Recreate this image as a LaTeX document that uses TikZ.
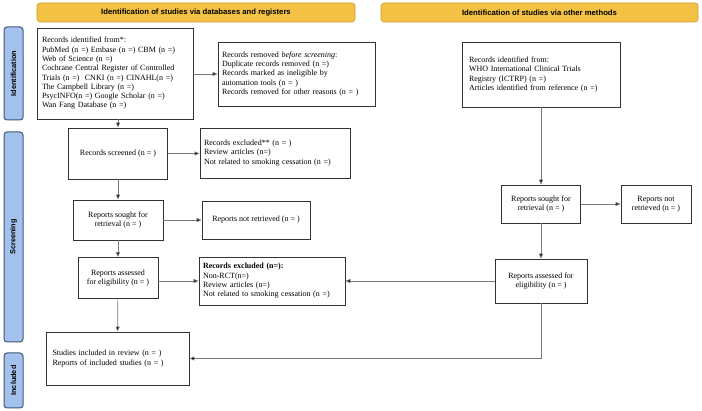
\documentclass[tikz,border=0pt]{standalone}
\usepackage{fontspec}
\setmainfont{Liberation Serif}
\setsansfont{Liberation Sans}
\usepackage{tikz}
\usetikzlibrary{arrows.meta}

\definecolor{headgold}{HTML}{F3C244}
\definecolor{headedge}{HTML}{C99A2E}
\definecolor{sideblue}{HTML}{A3C1EC}
\definecolor{sideedge}{HTML}{3F5676}
\definecolor{linegray}{HTML}{7A7A7A}

\begin{document}
\begin{tikzpicture}[x=1pt,y=-1pt,
  box/.style={draw=black!80,line width=0.9pt,inner sep=3pt,
    font=\fontsize{8}{9.3}\selectfont},
  lbox/.style={box,align=left},
  cbox/.style={box,align=center},
  head/.style={draw=headedge,fill=headgold,rounded corners=3pt,line width=0.6pt,
    minimum height=19,font=\sffamily\bfseries\fontsize{7.7}{9}\selectfont},
  side/.style={draw=sideedge,fill=sideblue,rounded corners=3pt,line width=1pt,
    rotate=90,minimum height=19,font=\sffamily\bfseries\fontsize{7.3}{8}\selectfont},
  flow/.style={draw=linegray,line width=0.7pt,-{Triangle[length=5pt,width=4pt,fill=black]}}]
\useasboundingbox (0,0) rectangle (702,411);

% headers
\node[head,minimum width=318] (hdb) at (196,12.5) {Identification of studies via databases and registers};
\node[head,minimum width=317] (hother) at (539.5,12.5) {Identification of studies via other methods};

% phase labels
\node[side,minimum width=93] (pid) at (13.5,73.5) {Identification};
\node[side,minimum width=210] (pscr) at (13.5,237) {Screening};
\node[side,minimum width=55] (pinc) at (13.5,380.5) {Included};

% databases and registers
\node[lbox,minimum width=156,minimum height=91,text width=146] (ident) at (115,73.5) {Records identified from*:\\
PubMed (n =) Embase (n =) CBM (n =)\\
Web of Science (n =)\\
Cochrane Central Register of Controlled\\
Trials (n =)\ \ CNKI (n =) CINAHL(n =)\\
The Campbell Library (n =)\\
PsycINFO(n =) Google Scholar (n =)\\
Wan Fang Database (n =)};
\node[lbox,minimum width=157,minimum height=64,text width=149] (removed) at (296.5,74) {Records removed \textit{before screening}:\\
Duplicate records removed (n =)\\
Records marked as ineligible by\\
automation tools (n = )\\
Records removed for other reasons (n = )};
\node[cbox,minimum width=99,minimum height=51] (screened) at (118,153.5) {Records screened (n = )};
\node[lbox,minimum width=150,minimum height=50,text width=142] (excl1) at (275,153) {Records excluded** (n = )\\
Review articles (n=)\\
Not related to smoking cessation (n =)};
\node[cbox,minimum width=90,minimum height=40] (soughtL) at (118,220) {Reports sought for\\retrieval (n = )};
\node[cbox,minimum width=108,minimum height=38] (notretL) at (256,220) {Reports not retrieved (n = )};
\node[cbox,minimum width=80,minimum height=41] (assessL) at (118,278) {Reports assessed\\for eligibility (n = )};
\node[lbox,minimum width=146,minimum height=48,text width=138] (excl2) at (272,281) {\textbf{Records excluded (n=):}\\
Non-RCT(n=)\\
Review articles (n=)\\
Not related to smoking cessation (n =)};
\node[lbox,minimum width=143,minimum height=53,text width=130] (incl) at (117.5,358.5) {Studies included in review (n = )\\
Reports of included studies (n = )};

% other methods
\node[lbox,minimum width=158,minimum height=65,text width=144] (other) at (541,74.5) {Records identified from:\\
WHO International Clinical Trials\\
Registry (ICTRP) (n =)\\
Articles identified from reference (n =)};
\node[cbox,minimum width=79,minimum height=38] (soughtR) at (541,204) {Reports sought for\\retrieval (n = )};
\node[cbox,minimum width=70,minimum height=38] (notretR) at (656,204) {Reports not\\retrieved (n = )};
\node[cbox,minimum width=92,minimum height=44] (assessR) at (541,281) {Reports assessed for\\eligibility (n = )};

% connectors
\draw[flow] (ident.south -| screened) -- (screened.north);
\draw[flow] (ident.east |- removed) -- (removed.west);
\draw[flow] (screened) -- (excl1.west |- screened);
\draw[flow] (screened) -- (soughtL);
\draw[flow] (soughtL) -- (notretL);
\draw[flow] (soughtL) -- (assessL);
\draw[flow] (assessL.east |- excl2) -- (excl2.west);
\draw[flow] (assessL) -- (incl);
\draw[flow] (other) -- (soughtR);
\draw[flow] (soughtR) -- (notretR);
\draw[flow] (soughtR) -- (assessR);
\draw[flow] (assessR.west) -- (excl2.east);
\draw[flow] (assessR.south) -- (assessR.south |- incl.east) -- (incl.east);
\end{tikzpicture}
\end{document}
